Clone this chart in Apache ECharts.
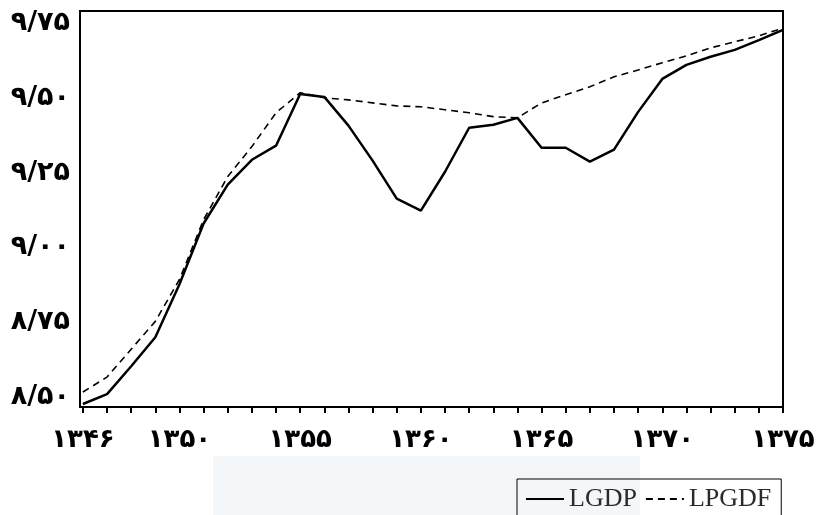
<!DOCTYPE html>
<html>
<head>
<meta charset="utf-8">
<script src="https://cdn.jsdelivr.net/npm/echarts@6/dist/echarts.min.js"></script>
<style>html,body{margin:0;padding:0;background:#fff}#c{width:821px;height:515px}</style>
</head>
<body>
<div id="c"></div>
<script>
var years = [1346,1347,1348,1349,1350,1351,1352,1353,1354,1355,1356,1357,1358,1359,1360,1361,1362,1363,1364,1365,1366,1367,1368,1369,1370,1371,1372,1373,1374,1375];
var lgdp = [8.477,8.51,8.603,8.70,8.877,9.08,9.21,9.293,9.34,9.513,9.503,9.407,9.29,9.163,9.123,9.253,9.40,9.41,9.433,9.333,9.333,9.287,9.327,9.453,9.563,9.61,9.637,9.66,9.693,9.727];
var lpgdf = [8.517,8.567,8.66,8.753,8.893,9.093,9.237,9.337,9.45,9.517,9.50,9.493,9.483,9.473,9.47,9.46,9.45,9.437,9.433,9.483,9.51,9.537,9.57,9.593,9.617,9.64,9.667,9.687,9.707,9.733];
var xTickLabels = [1346,1350,1355,1360,1365,1370,1375];
var yTickLabels = [8.5,8.75,9,9.25,9.5,9.75];
var seriesNames = ['LGDP','LPGDF'];

var fa = ['۰','۱','۲','۳','۴','۵','۶','۷','۸','۹'];
function toFa(s){ return String(s).replace(/[0-9]/g, function(d){ return fa[+d]; }); }
function pair(xs, ys){ return xs.map(function(x,i){ return [x, ys[i]]; }); }

var chart = echarts.init(document.getElementById('c'), null, {renderer:'canvas'});
chart.setOption({
  animation:false,
  backgroundColor:'#fff',
  graphic:[{type:'rect', shape:{x:213,y:456,width:427,height:60}, style:{fill:'#f4f7fa'}, z:-10}],
  grid:{left:80,right:38,top:11,bottom:108,show:true,borderColor:'#000',borderWidth:2,backgroundColor:'transparent'},
  xAxis:{
    type:'value', min:1345.88, max:1375,
    splitLine:{show:false},
    axisLine:{lineStyle:{color:'#000',width:2}},
    axisTick:{show:true, inside:false, length:6, lineStyle:{color:'#000',width:2}, customValues:years},
    axisLabel:{customValues:xTickLabels, margin:20, color:'#000', fontSize:26, fontWeight:'bold', fontFamily:'DejaVu Sans',
      formatter:function(v){ return toFa(Math.round(v)); }}
  },
  yAxis:{
    type:'value', min:8.467, max:9.79,
    splitLine:{show:false},
    axisLine:{show:true, lineStyle:{color:'#000',width:2}},
    axisTick:{show:false},
    axisLabel:{customValues:yTickLabels, margin:10, color:'#000', fontSize:27, fontWeight:'bold', fontFamily:'DejaVu Sans',
      formatter:function(v){ return toFa(v.toFixed(2)).replace('.', '/'); }}
  },
  legend:{
    data:seriesNames, left:517, top:479,
    borderColor:'#000', borderWidth:1, padding:[7,10,12,8],
    itemWidth:38, itemHeight:14, itemGap:8,
    itemStyle:{opacity:0},
    textStyle:{fontFamily:'Liberation Serif', fontSize:26, color:'#2a2a2a'}
  },
  series:[
    {name:seriesNames[0], type:'line', data:pair(years,lgdp), symbol:'none', lineStyle:{color:'#000',width:2.5}, itemStyle:{color:'#000'}},
    {name:seriesNames[1], type:'line', data:pair(years,lpgdf), symbol:'none', lineStyle:{color:'#000',width:1.6,type:[7,5]}, itemStyle:{color:'#000'}}
  ]
});
</script>
</body>
</html>
